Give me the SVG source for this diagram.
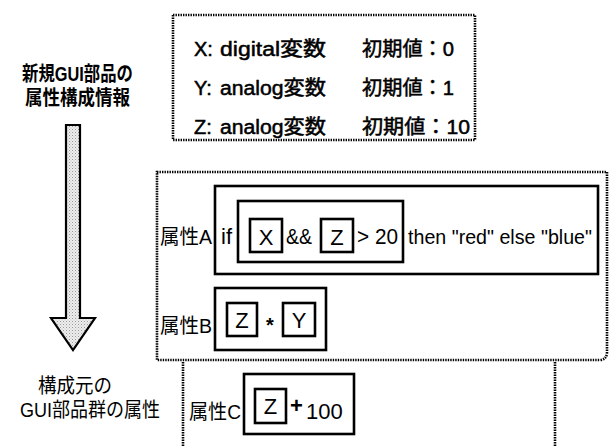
<svg xmlns="http://www.w3.org/2000/svg" width="611" height="447" viewBox="0 0 611 447">
<defs>
<style>
.t{font-family:"Liberation Sans","Noto Sans CJK JP",sans-serif;font-size:20px;fill:#000}
.m{stroke:#000;stroke-width:0.5}
.b{font-weight:bold}
.L{font-size:22px}
.dot{fill:none;stroke:#000;stroke-width:2.6;stroke-dasharray:1.4 1.1}
.box{fill:none;stroke:#000;stroke-width:2.6}
</style>
<pattern id="stip" width="3" height="3" patternUnits="userSpaceOnUse">
<rect width="3" height="3" fill="#eeeeee"/>
<rect width="1" height="1" fill="#999"/>
<rect x="1.5" y="1.5" width="1" height="1" fill="#bbb"/>
</pattern>
</defs>
<g id="vars">
<rect class="dot" x="173" y="15" width="302" height="125"/>
<text class="t m" x="194" y="56">X:</text>
<text class="t m" x="220" y="56" textLength="106" lengthAdjust="spacingAndGlyphs">digital変数</text>
<text class="t m" x="362" y="56" textLength="92" lengthAdjust="spacingAndGlyphs">初期値：0</text>
<text class="t m" x="194" y="95">Y:</text>
<text class="t m" x="220" y="95" textLength="106" lengthAdjust="spacingAndGlyphs">analog変数</text>
<text class="t m" x="362" y="95" textLength="92" lengthAdjust="spacingAndGlyphs">初期値：1</text>
<text class="t m" x="194" y="134">Z:</text>
<text class="t m" x="220" y="134" textLength="106" lengthAdjust="spacingAndGlyphs">analog変数</text>
<text class="t m" x="362" y="134" textLength="108" lengthAdjust="spacingAndGlyphs">初期値：10</text>
</g>
<g id="label-top">
<text class="t b" x="22" y="81" textLength="111" lengthAdjust="spacingAndGlyphs">新規GUI部品の</text>
<text class="t b" x="25" y="105" textLength="105" lengthAdjust="spacingAndGlyphs">属性構成情報</text>
</g>
<g id="connectors">
<polygon points="66,125 80,125 80,318 95,318 73,350 51,318 66,318" fill="url(#stip)" stroke="#000" stroke-width="2.2" stroke-linejoin="miter"/>
</g>
<g id="group-AB">
<path class="dot" d="M157,172 H607 V352 Q607,360 599,360 H157 Z"/>
</g>
<g id="attrA">
<text class="t" x="160" y="244" textLength="52" lengthAdjust="spacingAndGlyphs">属性A</text>
<rect class="box" x="215" y="186" width="383" height="88"/>
<text class="t L" x="221" y="244">if</text>
<rect class="box" x="250" y="219" width="32" height="33"/>
<text class="t L" x="266" y="245" text-anchor="middle">X</text>
<rect class="box" x="238" y="201" width="165" height="61"/>
<text class="t L" x="286" y="244" textLength="26" lengthAdjust="spacingAndGlyphs">&amp;&amp;</text>
<rect class="box" x="321" y="219" width="32" height="33"/>
<text class="t L" x="337" y="245" text-anchor="middle">Z</text>
<text class="t L" x="357" y="244" textLength="41" lengthAdjust="spacingAndGlyphs">&gt; 20</text>
<text class="t" x="408" y="244" textLength="184" lengthAdjust="spacingAndGlyphs">then "red" else "blue"</text>
</g>
<g id="attrB">
<text class="t" x="160" y="333" textLength="52" lengthAdjust="spacingAndGlyphs">属性B</text>
<rect class="box" x="215" y="288" width="111" height="62"/>
<rect class="box" x="227" y="303" width="30" height="33"/>
<text class="t L" x="242" y="328" text-anchor="middle">Z</text>
<text class="t b" x="270" y="332" font-size="46" text-anchor="middle">*</text>
<rect class="box" x="283" y="303" width="32" height="33"/>
<text class="t L" x="299" y="328" text-anchor="middle">Y</text>
</g>
<g id="group-C">
<line class="dot" x1="183" y1="362" x2="183" y2="447"/>
<line class="dot" x1="555" y1="362" x2="555" y2="447"/>
</g>
<g id="attrC">
<text class="t" x="189" y="419" textLength="52" lengthAdjust="spacingAndGlyphs">属性C</text>
<rect class="box" x="244" y="374" width="110" height="60"/>
<rect class="box" x="255" y="389" width="31" height="34"/>
<text class="t L" x="270.5" y="414" text-anchor="middle">Z</text>
<text class="t L b" x="290" y="413">+</text>
<text class="t L" x="306" y="419">100</text>
</g>
<g id="label-bottom">
<text class="t" x="38" y="393" textLength="74" lengthAdjust="spacingAndGlyphs">構成元の</text>
<text class="t" x="20" y="417" textLength="140" lengthAdjust="spacingAndGlyphs">GUI部品群の属性</text>
</g>
</svg>
